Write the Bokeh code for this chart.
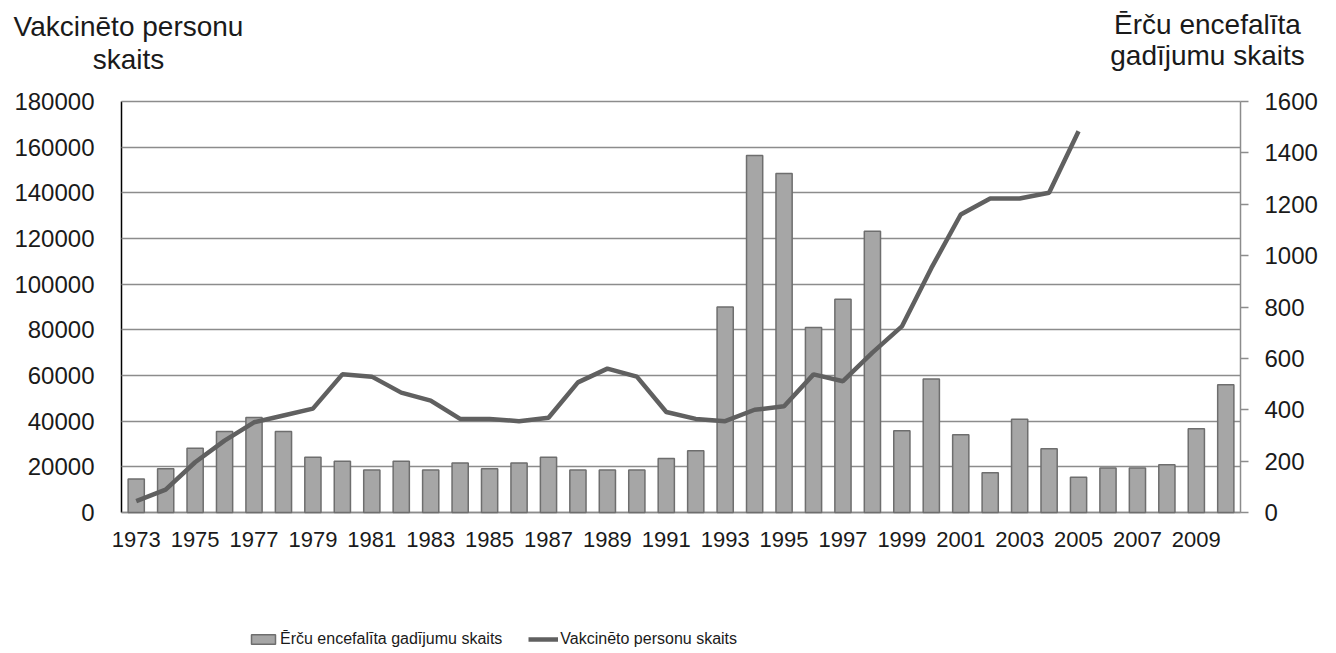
from bokeh.plotting import figure
from bokeh.models import (Range1d, LinearAxis, FixedTicker, PrintfTickFormatter,
                          Label, Legend, LegendItem)
from bokeh.embed import file_html
from bokeh.resources import INLINE

# ---------------- data ----------------
years = [1973, 1974, 1975, 1976, 1977, 1978, 1979, 1980, 1981, 1982,
         1983, 1984, 1985, 1986, 1987, 1988, 1989, 1990, 1991, 1992,
         1993, 1994, 1995, 1996, 1997, 1998, 1999, 2000, 2001, 2002,
         2003, 2004, 2005, 2006, 2007, 2008, 2009, 2010]

# Ērču encefalīta gadījumu skaits (right axis)
cases = [130, 170, 250, 315, 370, 315, 215, 200, 165, 200,
         165, 193, 170, 193, 215, 165, 165, 165, 210, 240,
         800, 1390, 1320, 720, 830, 1095, 318, 520, 303, 155,
         363, 248, 137, 173, 173, 186, 326, 497]

# Vakcinēto personu skaits (left axis), 1973-2005
vacc_years = [1973, 1974, 1975, 1976, 1977, 1978, 1979, 1980, 1981, 1982,
              1983, 1984, 1985, 1986, 1987, 1988, 1989, 1990, 1991, 1992,
              1993, 1994, 1995, 1996, 1997, 1998, 1999, 2000, 2001, 2002,
              2003, 2004, 2005]
vaccinated = [5000, 10000, 22000, 31500, 39500, 42500, 45500, 60500, 59500, 52500,
              49000, 41000, 41000, 40000, 41500, 57000, 63000, 59500, 44000, 41000,
              40000, 45000, 46500, 60500, 57500, 70000, 81500, 107000, 130500, 137500,
              137500, 140000, 167000]

x_tick_years = [1973, 1975, 1977, 1979, 1981, 1983, 1985, 1987, 1989, 1991,
                1993, 1995, 1997, 1999, 2001, 2003, 2005, 2007, 2009]
left_ticks = [0, 20000, 40000, 60000, 80000, 100000, 120000, 140000, 160000, 180000]
right_ticks = [0, 200, 400, 600, 800, 1000, 1200, 1400, 1600]

series_bar = "Ērču encefalīta gadījumu skaits"
series_line = "Vakcinēto personu skaits"
left_title = ["Vakcinēto personu", "skaits"]
right_title = ["Ērču encefalīta", "gadījumu skaits"]

# ---------------- layout (pixels) ----------------
FONT = "Liberation Sans"
TXT = "#1a1a1a"
GRID = "#8c8c8c"

W, H = 1320, 650
FL, FR, FT, FB = 121, 1240, 101, 512          # chart box inside the canvas
X0, X1 = 1972.5, 2010.5                        # year extent of chart box
Y1, R1 = 180000, 1600                          # top of left / right axes

sx = (X1 - X0) / (FR - FL)
sy = Y1 / (FB - FT)
sr = R1 / (FB - FT)

x_range = Range1d(X0 - FL * sx, X1 + (W - FR) * sx)
y_range = Range1d(-(H - FB) * sy, Y1 + FT * sy)
r_range = Range1d(-(H - FB) * sr, R1 + FT * sr)

p = figure(width=W, height=H, output_backend="svg", toolbar_location=None,
           x_range=x_range, y_range=y_range,
           x_axis_location=None, y_axis_location=None,
           min_border=0, min_border_left=0, min_border_right=0,
           min_border_top=0, min_border_bottom=0)
p.outline_line_color = None
p.background_fill_color = "white"
p.border_fill_color = "white"
p.xgrid.visible = False
p.ygrid.visible = False
p.extra_y_ranges = {"right": r_range}

# left axis: black line, inward ticks act as horizontal gridlines
ya = LinearAxis(ticker=FixedTicker(ticks=left_ticks),
                formatter=PrintfTickFormatter(format="%d"),
                fixed_location=X0, bounds=(0, Y1))
ya.level = "underlay"
ya.major_tick_out = 0
ya.major_tick_in = FR - FL
ya.major_tick_line_color = GRID
ya.major_tick_line_width = 1.5
ya.minor_tick_out = 0
ya.minor_tick_in = 0
ya.axis_line_color = "black"
ya.axis_line_width = 1.5
ya.major_label_text_font = FONT
ya.major_label_text_font_size = "24px"
ya.major_label_text_color = TXT
ya.major_label_standoff = 27
p.add_layout(ya, "left")

# right axis
ra = LinearAxis(y_range_name="right", ticker=FixedTicker(ticks=right_ticks),
                fixed_location=X1, bounds=(0, R1))
ra.major_tick_out = 8
ra.major_tick_in = 0
ra.minor_tick_out = 0
ra.minor_tick_in = 0
ra.axis_line_color = GRID
ra.axis_line_width = 1.5
ra.major_tick_line_color = GRID
ra.major_tick_line_width = 1.5
ra.major_label_text_font = FONT
ra.major_label_text_font_size = "24px"
ra.major_label_text_color = TXT
ra.major_label_standoff = 16
p.add_layout(ra, "right")

# x axis
xa = LinearAxis(ticker=FixedTicker(ticks=x_tick_years),
                formatter=PrintfTickFormatter(format="%d"),
                fixed_location=0, bounds=(X0, X1))
xa.level = "underlay"
xa.major_tick_out = 0
xa.major_tick_in = 0
xa.minor_tick_out = 0
xa.minor_tick_in = 0
xa.axis_line_color = GRID
xa.axis_line_width = 1.5
xa.major_label_text_font = FONT
xa.major_label_text_font_size = "22px"
xa.major_label_text_color = TXT
xa.major_label_standoff = 19
p.add_layout(xa, "below")

# glyphs
bars = p.vbar(x=years, top=cases, width=0.55, y_range_name="right",
              fill_color="#a6a6a6", line_color="#6e6e6e", line_width=1.5)
line = p.line(x=vacc_years, y=vaccinated, line_color="#606060", line_width=4.5)

# legend
legend = Legend(items=[LegendItem(label=series_bar, renderers=[bars]),
                       LegendItem(label=series_line, renderers=[line])],
                orientation="horizontal", location=(248, 2),
                padding=0, margin=0, spacing=26, label_standoff=2,
                glyph_width=30, glyph_height=12,
                label_text_font=FONT, label_text_font_size="16px",
                label_text_color=TXT,
                border_line_color=None, background_fill_alpha=0)
p.add_layout(legend, "center")


# axis titles
def dx(px):
    return x_range.start + px * sx


def dy(py):
    return y_range.end - py * sy


for txt, cx, base in [(left_title[0], 128, 26), (left_title[1], 128, 59),
                      (right_title[0], 1207, 24), (right_title[1], 1207, 55)]:
    p.add_layout(Label(x=dx(cx), y=dy(base), text=txt, text_align="center",
                       text_baseline="alphabetic", text_font=FONT,
                       text_font_size="28px", text_color=TXT))

open("out.html", "w").write(file_html(p, INLINE))
